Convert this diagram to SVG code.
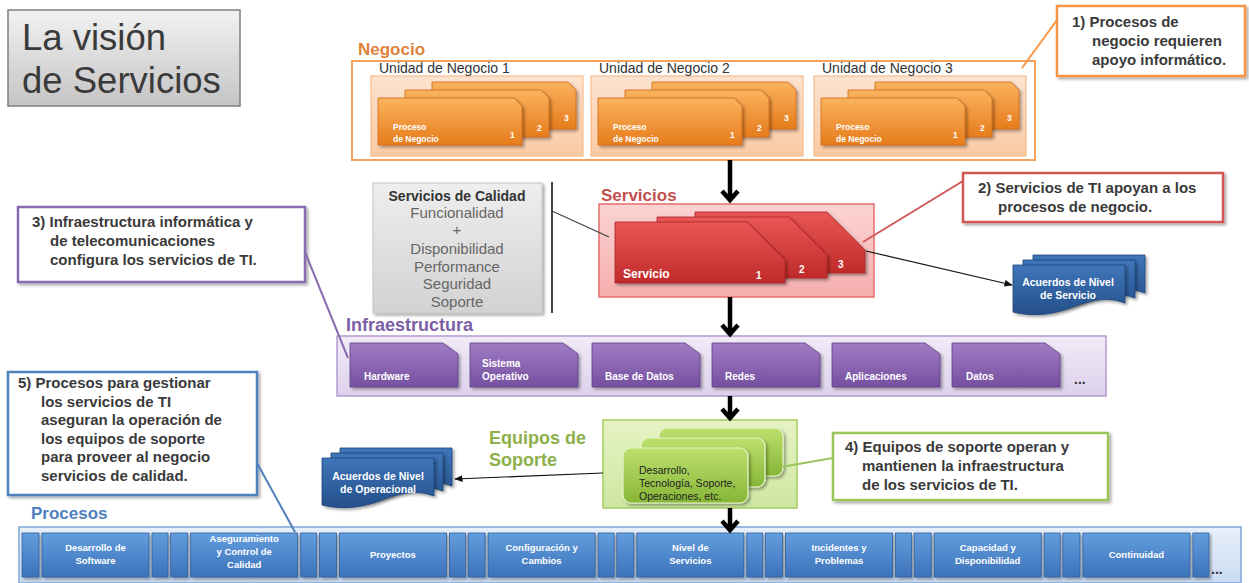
<svg xmlns="http://www.w3.org/2000/svg" width="1249" height="583" viewBox="0 0 1249 583">
<defs>
  <linearGradient id="gTitle" x1="0" y1="0" x2="0" y2="1"><stop offset="0" stop-color="#f2f2f2"/><stop offset="1" stop-color="#c4c4c4"/></linearGradient>
  <linearGradient id="gQ" x1="0" y1="0" x2="0" y2="1"><stop offset="0" stop-color="#eeeeee"/><stop offset="1" stop-color="#d2d2d2"/></linearGradient>
  <linearGradient id="gU" x1="0" y1="0" x2="0" y2="1"><stop offset="0" stop-color="#fde3cf"/><stop offset="1" stop-color="#facaa4"/></linearGradient>
  <linearGradient id="gO" x1="0" y1="0" x2="0" y2="1"><stop offset="0" stop-color="#fbb35e"/><stop offset="1" stop-color="#e67c1c"/></linearGradient>
  <linearGradient id="gPk" x1="0" y1="0" x2="0" y2="1"><stop offset="0" stop-color="#fbd3d3"/><stop offset="1" stop-color="#f5aeae"/></linearGradient>
  <linearGradient id="gR" x1="0" y1="0" x2="0" y2="1"><stop offset="0" stop-color="#ea5656"/><stop offset="1" stop-color="#c02a2a"/></linearGradient>
  <linearGradient id="gL" x1="0" y1="0" x2="0" y2="1"><stop offset="0" stop-color="#f1ebf7"/><stop offset="1" stop-color="#ddd1eb"/></linearGradient>
  <linearGradient id="gP" x1="0" y1="0" x2="0" y2="1"><stop offset="0" stop-color="#a07cc4"/><stop offset="1" stop-color="#7550a0"/></linearGradient>
  <linearGradient id="gGB" x1="0" y1="0" x2="0" y2="1"><stop offset="0" stop-color="#e6f3c4"/><stop offset="1" stop-color="#cde6a0"/></linearGradient>
  <linearGradient id="gG" x1="0" y1="0" x2="0" y2="1"><stop offset="0" stop-color="#bde06e"/><stop offset="1" stop-color="#86b636"/></linearGradient>
  <linearGradient id="gBB" x1="0" y1="0" x2="0" y2="1"><stop offset="0" stop-color="#e8f0fa"/><stop offset="1" stop-color="#c9dbf1"/></linearGradient>
  <linearGradient id="gB" x1="0" y1="0" x2="0" y2="1"><stop offset="0" stop-color="#639ede"/><stop offset="1" stop-color="#3c72ba"/></linearGradient>
  <linearGradient id="gD" x1="0" y1="0" x2="0" y2="1"><stop offset="0" stop-color="#3f76ba"/><stop offset="1" stop-color="#244f8a"/></linearGradient>
  <filter id="sh" x="-10%" y="-10%" width="130%" height="140%">
    <feDropShadow dx="2" dy="2" stdDeviation="1.6" flood-color="#000" flood-opacity="0.35"/>
  </filter>
  <marker id="ah" viewBox="0 0 10 10" refX="9" refY="5" markerWidth="7" markerHeight="7" orient="auto">
    <path d="M0 1L10 5L0 9Z" fill="#111"/>
  </marker>
  <!-- card outlines -->
  <path id="pc" d="M0 0H136L144 8V47H0Z"/>
  <path id="sc" d="M0 0H132L170 38V61H0Z"/>
  <path id="ic" d="M0 0H93L108 11V44H0Z"/>
  <path id="dc" d="M0 0H112V38C96 32 80 34 60 42C40 50 20 52 0 47Z"/>
</defs>
<style>
  text{font-family:"Liberation Sans",Arial,sans-serif}
  .co{font-size:15px;font-weight:bold;fill:#3a3a3a}
  .wb{fill:#fff;font-weight:bold}
  .cardO{fill:url(#gO);stroke:#cf6a18;stroke-width:0.8;filter:url(#sh)}
  .cardR{fill:url(#gR);stroke:#a82222;stroke-width:0.8;filter:url(#sh)}
  .cardP{fill:url(#gP);stroke:#5e3d88;stroke-width:0.8;filter:url(#sh)}
  .cardG{fill:url(#gG);stroke:#e6f5c8;stroke-width:1.2;filter:url(#sh)}
  .doc{fill:url(#gD);stroke:#1d4478;stroke-width:0.8;filter:url(#sh)}
  .btn{fill:url(#gB);stroke:#2f5f9e;stroke-width:0.8;filter:url(#sh)}
  .bl{font-size:9.5px;fill:#fff;font-weight:bold;text-anchor:middle}
  .il{font-size:10px;fill:#fff;font-weight:bold}
  .big{fill:none;stroke:#000;stroke-width:4.5}
  .thin{fill:none;stroke:#111;stroke-width:1.2;marker-end:url(#ah)}
</style>

<!-- title -->
<g id="titulo">
  <rect x="8" y="10" width="232" height="96" fill="url(#gTitle)" stroke="#7f7f7f" stroke-width="1.5"/>
  <text x="22" y="50" font-size="36.5" fill="#3a3a3a">La visión</text>
  <text x="22" y="93" font-size="36.5" fill="#3a3a3a">de Servicios</text>
</g>

<!-- business layer -->
<g id="negocio">
  <text x="358" y="55" font-size="17" font-weight="bold" fill="#e0823a">Negocio</text>
  <rect x="352" y="61" width="683" height="99" fill="#fff" stroke="#f5a25e" stroke-width="2"/>
</g>
<g id="unidad-1">
  <rect x="371" y="76" width="212" height="80" fill="url(#gU)" stroke="#f7b27a"/>
  <text x="379" y="73" font-size="14" fill="#333">Unidad de Negocio 1</text>
  <use href="#pc" x="432" y="82" class="cardO"/>
  <use href="#pc" x="405" y="90" class="cardO"/>
  <use href="#pc" x="378" y="98" class="cardO"/>
  <text x="393" y="130" font-size="8.5" class="wb">Proceso</text>
  <text x="393" y="142" font-size="8.5" class="wb">de Negocio</text>
  <text x="564" y="121" font-size="8.5" class="wb">3</text>
  <text x="537" y="131" font-size="8.5" class="wb">2</text>
  <text x="510" y="138" font-size="8.5" class="wb">1</text>
</g>
<g id="unidad-2" transform="translate(220 0)">
  <rect x="371" y="76" width="212" height="80" fill="url(#gU)" stroke="#f7b27a"/>
  <text x="379" y="73" font-size="14" fill="#333">Unidad de Negocio 2</text>
  <use href="#pc" x="432" y="82" class="cardO"/>
  <use href="#pc" x="405" y="90" class="cardO"/>
  <use href="#pc" x="378" y="98" class="cardO"/>
  <text x="393" y="130" font-size="8.5" class="wb">Proceso</text>
  <text x="393" y="142" font-size="8.5" class="wb">de Negocio</text>
  <text x="564" y="121" font-size="8.5" class="wb">3</text>
  <text x="537" y="131" font-size="8.5" class="wb">2</text>
  <text x="510" y="138" font-size="8.5" class="wb">1</text>
</g>
<g id="unidad-3" transform="translate(443 0)">
  <rect x="371" y="76" width="212" height="80" fill="url(#gU)" stroke="#f7b27a"/>
  <text x="379" y="73" font-size="14" fill="#333">Unidad de Negocio 3</text>
  <use href="#pc" x="432" y="82" class="cardO"/>
  <use href="#pc" x="405" y="90" class="cardO"/>
  <use href="#pc" x="378" y="98" class="cardO"/>
  <text x="393" y="130" font-size="8.5" class="wb">Proceso</text>
  <text x="393" y="142" font-size="8.5" class="wb">de Negocio</text>
  <text x="564" y="121" font-size="8.5" class="wb">3</text>
  <text x="537" y="131" font-size="8.5" class="wb">2</text>
  <text x="510" y="138" font-size="8.5" class="wb">1</text>
</g>

<!-- quality attributes -->
<g id="calidad">
  <rect x="373" y="183" width="169" height="130" fill="url(#gQ)" stroke="#c4c4c4" filter="url(#sh)"/>
  <g text-anchor="middle">
    <text x="457" y="201" font-size="14" font-weight="bold" fill="#333">Servicios de Calidad</text>
    <text x="457" y="218" font-size="15" fill="#666">Funcionalidad</text>
    <text x="457" y="235" font-size="15" fill="#666">+</text>
    <text x="457" y="254" font-size="15" fill="#666">Disponibilidad</text>
    <text x="457" y="272" font-size="15" fill="#666">Performance</text>
    <text x="457" y="289" font-size="15" fill="#666">Seguridad</text>
    <text x="457" y="307" font-size="15" fill="#666">Soporte</text>
  </g>
</g>

<!-- services layer -->
<g id="servicios">
  <text x="601" y="201" font-size="17" font-weight="bold" fill="#c0504d">Servicios</text>
  <rect x="599" y="204" width="275" height="93" fill="url(#gPk)" stroke="#e46f6f" stroke-width="1.5"/>
  <use href="#sc" x="695" y="212" class="cardR"/>
  <use href="#sc" x="657" y="217" class="cardR"/>
  <use href="#sc" x="615" y="222" class="cardR"/>
  <text x="623" y="278" font-size="12" class="wb">Servicio</text>
  <text x="756" y="279" font-size="10" class="wb">1</text>
  <text x="799" y="273" font-size="10" class="wb">2</text>
  <text x="838" y="268" font-size="10" class="wb">3</text>
</g>

<!-- service level agreements -->
<g id="sla-servicio">
  <use href="#dc" x="1033" y="255" class="doc"/>
  <use href="#dc" x="1023" y="260" class="doc"/>
  <use href="#dc" x="1013" y="265" class="doc"/>
  <g text-anchor="middle" font-size="10.5">
    <text x="1068" y="286" class="wb">Acuerdos de Nivel</text>
    <text x="1068" y="299" class="wb">de Servicio</text>
  </g>
</g>

<!-- infrastructure layer -->
<g id="infraestructura">
  <text x="346" y="331" font-size="18" font-weight="bold" fill="#7b5ea5">Infraestructura</text>
  <rect x="337" y="336" width="769" height="60" fill="url(#gL)" stroke="#b49ad0" stroke-width="1.5"/>
  <use href="#ic" x="350" y="343" class="cardP"/>
  <use href="#ic" x="470" y="343" class="cardP"/>
  <use href="#ic" x="592" y="343" class="cardP"/>
  <use href="#ic" x="712" y="343" class="cardP"/>
  <use href="#ic" x="832" y="343" class="cardP"/>
  <use href="#ic" x="952" y="343" class="cardP"/>
  <text x="364" y="380" class="il">Hardware</text>
  <text x="482" y="367" class="il">Sistema</text>
  <text x="482" y="380" class="il">Operativo</text>
  <text x="605" y="380" class="il">Base de Datos</text>
  <text x="725" y="380" class="il">Redes</text>
  <text x="845" y="380" class="il">Aplicaciones</text>
  <text x="966" y="380" class="il">Datos</text>
  <text x="1074" y="384" font-size="14" font-weight="bold" fill="#333">...</text>
</g>

<!-- support teams -->
<g id="equipos">
  <text x="489" y="444" font-size="18" font-weight="bold" fill="#8db04a">Equipos de</text>
  <text x="489" y="466" font-size="18" font-weight="bold" fill="#8db04a">Soporte</text>
  <rect x="603" y="420" width="194" height="88" fill="url(#gGB)" stroke="#a5cc60" stroke-width="1.5"/>
  <rect x="659" y="428" width="124" height="48" rx="8" class="cardG"/>
  <rect x="641" y="438" width="124" height="49" rx="8" class="cardG"/>
  <rect x="623" y="448" width="125" height="55" rx="8" class="cardG"/>
  <g font-size="10.5" fill="#222">
    <text x="639" y="474">Desarrollo,</text>
    <text x="639" y="487">Tecnología, Soporte,</text>
    <text x="639" y="500">Operaciones, etc.</text>
  </g>
</g>

<!-- operational level agreements -->
<g id="sla-operacional">
  <use href="#dc" x="340" y="448" class="doc"/>
  <use href="#dc" x="331" y="453" class="doc"/>
  <use href="#dc" x="322" y="458" class="doc"/>
  <g text-anchor="middle" font-size="10.5">
    <text x="378" y="480" class="wb">Acuerdos de Nivel</text>
    <text x="378" y="493" class="wb">de Operacional</text>
  </g>
</g>

<!-- management processes -->
<g id="procesos">
  <text x="31" y="519" font-size="17" font-weight="bold" fill="#4f7fbf">Procesos</text>
  <rect x="19" y="527" width="1222" height="56" fill="url(#gBB)" stroke="#7ea6d8" stroke-width="1.5"/>
  <text x="1211" y="574" font-size="14" font-weight="bold" fill="#333">...</text>
</g>
<g id="proc-desarrollo">
  <rect x="22" y="533" width="17" height="44" class="btn"/><rect x="42" y="533" width="107" height="44" class="btn"/><rect x="152" y="533" width="16" height="44" class="btn"/>
  <text x="95.5" y="551" class="bl">Desarrollo de</text><text x="95.5" y="564" class="bl">Software</text>
</g>
<g id="proc-aseguramiento">
  <rect x="170.7" y="533" width="17" height="44" class="btn"/><rect x="190.7" y="533" width="107" height="44" class="btn"/><rect x="300.7" y="533" width="16" height="44" class="btn"/>
  <text x="244.2" y="542" class="bl">Aseguramiento</text><text x="244.2" y="555" class="bl">y Control de</text><text x="244.2" y="568" class="bl">Calidad</text>
</g>
<g id="proc-proyectos">
  <rect x="319.4" y="533" width="17" height="44" class="btn"/><rect x="339.4" y="533" width="107" height="44" class="btn"/><rect x="449.4" y="533" width="16" height="44" class="btn"/>
  <text x="392.9" y="558" class="bl">Proyectos</text>
</g>
<g id="proc-configuracion">
  <rect x="468.1" y="533" width="17" height="44" class="btn"/><rect x="488.1" y="533" width="107" height="44" class="btn"/><rect x="598.1" y="533" width="16" height="44" class="btn"/>
  <text x="541.6" y="551" class="bl">Configuración y</text><text x="541.6" y="564" class="bl">Cambios</text>
</g>
<g id="proc-nivel">
  <rect x="616.8" y="533" width="17" height="44" class="btn"/><rect x="636.8" y="533" width="107" height="44" class="btn"/><rect x="746.8" y="533" width="16" height="44" class="btn"/>
  <text x="690.3" y="551" class="bl">Nivel de</text><text x="690.3" y="564" class="bl">Servicios</text>
</g>
<g id="proc-incidentes">
  <rect x="765.5" y="533" width="17" height="44" class="btn"/><rect x="785.5" y="533" width="107" height="44" class="btn"/><rect x="895.5" y="533" width="16" height="44" class="btn"/>
  <text x="839" y="551" class="bl">Incidentes y</text><text x="839" y="564" class="bl">Problemas</text>
</g>
<g id="proc-capacidad">
  <rect x="914.2" y="533" width="17" height="44" class="btn"/><rect x="934.2" y="533" width="107" height="44" class="btn"/><rect x="1044.2" y="533" width="16" height="44" class="btn"/>
  <text x="987.7" y="551" class="bl">Capacidad y</text><text x="987.7" y="564" class="bl">Disponibilidad</text>
</g>
<g id="proc-continuidad">
  <rect x="1062.9" y="533" width="17" height="44" class="btn"/><rect x="1082.9" y="533" width="107" height="44" class="btn"/><rect x="1192.9" y="533" width="16" height="44" class="btn"/>
  <text x="1136.4" y="558" class="bl">Continuidad</text>
</g>

<!-- numbered notes -->
<g id="nota-1">
  <rect x="1057" y="6" width="188" height="70" fill="#fff" stroke="#f79646" stroke-width="2.5" filter="url(#sh)"/>
  <text x="1072" y="27" class="co">1) Procesos de</text>
  <text x="1092" y="46" class="co">negocio requieren</text>
  <text x="1092" y="65" class="co">apoyo informático.</text>
</g>
<g id="nota-2">
  <rect x="963" y="173" width="260" height="49" fill="#fff" stroke="#d25656" stroke-width="2.5" filter="url(#sh)"/>
  <text x="978" y="193" class="co">2) Servicios de TI apoyan a los</text>
  <text x="998" y="212" class="co">procesos de negocio.</text>
</g>
<g id="nota-3">
  <rect x="18" y="207" width="287" height="75" fill="#fff" stroke="#8a6bb0" stroke-width="2.5" filter="url(#sh)"/>
  <text x="32" y="227" class="co">3) Infraestructura informática y</text>
  <text x="50" y="246" class="co">de telecomunicaciones</text>
  <text x="50" y="265" class="co">configura los servicios de TI.</text>
</g>
<g id="nota-4">
  <rect x="833" y="433" width="275" height="67" fill="#fff" stroke="#9bc45c" stroke-width="2.5" filter="url(#sh)"/>
  <text x="845" y="452" class="co">4) Equipos de soporte operan y</text>
  <text x="862" y="471" class="co">mantienen la infraestructura</text>
  <text x="862" y="490" class="co">de los servicios de TI.</text>
</g>
<g id="nota-5">
  <rect x="8" y="372" width="249" height="123" fill="#fff" stroke="#4f81bd" stroke-width="2.5" filter="url(#sh)"/>
  <text x="18" y="388" class="co">5) Procesos para gestionar</text>
  <text x="41" y="406.5" class="co">los servicios de TI</text>
  <text x="41" y="425" class="co">aseguran la operación de</text>
  <text x="41" y="443.5" class="co">los equipos de soporte</text>
  <text x="41" y="462" class="co">para proveer al negocio</text>
  <text x="41" y="480.5" class="co">servicios de calidad.</text>
</g>

<!-- connectors -->
<g id="conectores">
  <path class="big" d="M730 160V200M722 191L730 200L738 191"/>
  <path class="big" d="M730 297V334M722 325L730 334L738 325"/>
  <path class="big" d="M730 396V418M722 409L730 418L738 409"/>
  <path class="big" d="M730 508V530M722 521L730 530L738 521"/>
  <line x1="866" y1="251" x2="1012" y2="285" class="thin"/>
  <line x1="603" y1="473" x2="455" y2="479" class="thin"/>
  <line x1="552" y1="182" x2="552" y2="313" stroke="#444" stroke-width="2"/>
  <line x1="552" y1="211" x2="609" y2="237" stroke="#444" stroke-width="1.3"/>
  <line x1="1057" y1="20" x2="1022" y2="68" stroke="#f79646" stroke-width="2"/>
  <line x1="963" y1="181" x2="863" y2="242" stroke="#d25656" stroke-width="2"/>
  <line x1="305" y1="252" x2="348" y2="358" stroke="#8a6bb0" stroke-width="2"/>
  <line x1="833" y1="458" x2="781" y2="467" stroke="#9bc45c" stroke-width="2"/>
  <line x1="257" y1="463" x2="295" y2="532" stroke="#4f81bd" stroke-width="2"/>
</g>
</svg>
